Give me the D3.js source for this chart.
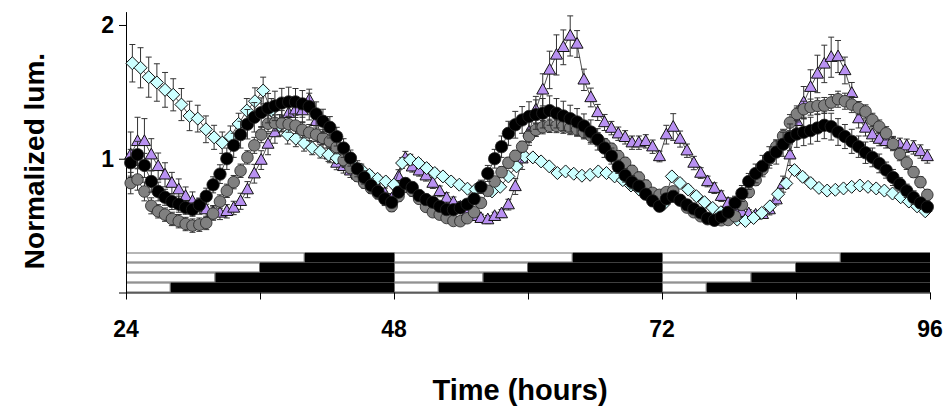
<!DOCTYPE html>
<html><head><meta charset="utf-8">
<script src="https://cdn.jsdelivr.net/npm/d3@7"></script>
<style>html,body{margin:0;padding:0;background:#fff;} svg{display:block;font-family:Arial,"Liberation Sans",Helvetica,sans-serif;}</style>
</head><body><svg id="chart" width="951" height="406"></svg>
<script>
// ---- sampling grids (hours) ----
const cyanStart = 24.57, cyanStep = 0.732;   // diamonds
const gridStart = 24.42, gridStep = 0.615;   // triangles, grey & black circles

// ---- series values (normalized luminescence) ----
const cyanVals = [1.714,1.68,1.61,1.57,1.515,1.478,1.405,1.32,1.30,1.22,1.16,1.12,1.165,1.26,1.36,1.43,1.51,1.36,1.25,1.18,1.15,1.117,1.08,1.055,1.03,1.005,0.975,0.95,0.92,0.88,0.85,0.83,0.806,
0.968,0.993,0.968,0.93,0.893,0.868,0.83,0.806,0.776,0.77,0.78,0.756,0.79,0.868,0.943,1.017,1.01,0.98,0.943,0.893,0.905,0.888,0.873,0.88,0.905,0.893,0.868,0.84,0.80,0.77,0.73,0.69,0.66,
0.868,0.818,0.77,0.72,0.675,0.632,0.60,0.565,0.545,0.535,0.557,0.595,0.644,0.735,0.815,0.915,0.865,0.818,0.782,0.762,0.768,0.778,0.79,0.80,0.79,0.778,0.762,0.74,0.712,0.68,0.644,0.607];
const cyanErr = [0.14,0.15,0.15,0.14,0.13,0.12,0.12,0.11,0.10,0.10,0.09,0.08,0.08,0.08,0.09,0.10,0.10,0.09,0.08,0.07,0.06,0.06,0.05,0.05,0.05,0.04,0.04,0.04,0.04,0.03,0.03,0.03,0.03,
0.04,0.04,0.03,0.03,0.03,0.03,0.03,0.03,0.02,0.02,0.02,0.02,0.02,0.03,0.03,0.03,0.03,0.02,0.02,0.02,0.02,0.02,0.02,0.02,0.02,0.02,0.02,0.02,0.02,0.02,0.02,0.02,0.02,
0.03,0.03,0.03,0.03,0.02,0.02,0.02,0.02,0.02,0.02,0.02,0.02,0.02,0.02,0.02,0.03,0.03,0.03,0.02,0.02,0.02,0.02,0.02,0.02,0.02,0.02,0.02,0.02,0.02,0.02,0.02,0.02];

const purpleVals = [1.03,1.13,1.13,1.03,0.943,0.88,0.818,0.769,0.719,0.682,0.645,0.62,0.60,0.595,0.607,0.632,0.682,0.769,0.888,0.99,1.11,1.196,1.28,1.34,1.366,1.36,1.44,1.28,1.15,1.03,0.968,0.943,0.91,0.88,0.85,0.82,0.78,0.74,0.70,
0.868,1.005,0.94,0.91,0.873,0.818,0.756,0.706,0.674,0.64,0.60,0.57,0.555,0.545,0.57,0.59,0.657,0.793,1.0,1.2,1.366,1.515,1.664,1.776,1.833,1.918,1.858,1.59,1.458,1.346,1.271,1.229,1.187,1.16,1.12,1.12,1.13,1.09,1.017,
1.18,1.237,1.147,1.06,0.968,0.893,0.83,0.78,0.72,0.668,0.63,0.60,0.59,0.58,0.585,0.62,0.694,0.81,1.03,1.28,1.42,1.535,1.634,1.709,1.759,1.764,1.66,1.49,1.30,1.23,1.18,1.147,1.13,1.117,1.104,1.097,1.085,1.054,1.017];
const purpleErr = [0.17,0.18,0.17,0.12,0.10,0.09,0.08,0.08,0.07,0.07,0.06,0.06,0.05,0.05,0.05,0.05,0.06,0.06,0.07,0.07,0.08,0.08,0.08,0.08,0.09,0.09,0.08,0.08,0.07,0.06,0.05,0.05,0.05,0.04,0.04,0.04,0.04,0.04,0.04,
0.05,0.05,0.04,0.04,0.04,0.04,0.04,0.04,0.04,0.04,0.04,0.03,0.03,0.03,0.03,0.03,0.04,0.06,0.08,0.10,0.10,0.12,0.14,0.15,0.13,0.15,0.10,0.08,0.07,0.06,0.06,0.05,0.05,0.05,0.05,0.05,0.05,0.05,0.04,
0.07,0.10,0.06,0.05,0.05,0.04,0.04,0.04,0.04,0.04,0.03,0.03,0.03,0.03,0.03,0.04,0.04,0.06,0.08,0.10,0.12,0.13,0.14,0.14,0.15,0.12,0.10,0.08,0.07,0.06,0.05,0.05,0.05,0.05,0.05,0.05,0.05,0.05,0.05];

const grayVals = [0.818,0.845,0.755,0.648,0.607,0.582,0.55,0.533,0.512,0.50,0.507,0.52,0.59,0.68,0.76,0.825,0.91,1.01,1.10,1.18,1.262,1.268,1.265,1.258,1.248,1.216,1.196,1.18,1.155,1.13,1.087,0.99,0.93,0.87,0.82,0.78,0.74,0.70,0.645,
0.72,0.79,0.76,0.70,0.64,0.60,0.582,0.557,0.535,0.533,0.555,0.60,0.67,0.76,0.83,0.90,0.97,1.022,1.09,1.17,1.216,1.236,1.246,1.245,1.24,1.23,1.218,1.198,1.172,1.145,1.11,1.075,1.02,0.97,0.91,0.86,0.80,0.745,0.73,
0.75,0.756,0.69,0.635,0.60,0.57,0.548,0.54,0.54,0.542,0.57,0.655,0.75,0.84,0.92,1.0,1.09,1.17,1.27,1.335,1.37,1.386,1.395,1.398,1.42,1.445,1.43,1.405,1.378,1.353,1.29,1.24,1.19,1.11,1.035,0.97,0.90,0.825,0.73];
const grayErr = [0.08,0.08,0.07,0.06,0.05,0.05,0.05,0.05,0.05,0.05,0.05,0.05,0.05,0.05,0.05,0.05,0.05,0.05,0.06,0.06,0.06,0.06,0.06,0.06,0.06,0.06,0.06,0.05,0.05,0.05,0.05,0.05,0.04,0.04,0.04,0.04,0.04,0.04,0.04,
0.04,0.04,0.04,0.03,0.03,0.03,0.03,0.03,0.03,0.03,0.03,0.03,0.03,0.03,0.03,0.04,0.04,0.04,0.04,0.05,0.05,0.05,0.05,0.05,0.05,0.05,0.05,0.05,0.05,0.05,0.04,0.04,0.04,0.04,0.04,0.04,0.04,0.03,0.03,
0.03,0.03,0.03,0.03,0.03,0.03,0.03,0.03,0.03,0.03,0.03,0.03,0.04,0.04,0.04,0.05,0.05,0.05,0.06,0.06,0.06,0.06,0.06,0.06,0.06,0.06,0.06,0.06,0.05,0.05,0.05,0.05,0.05,0.05,0.05,0.05,0.04,0.04,0.04];

const blackVals = [0.97,1.03,0.95,0.83,0.755,0.712,0.68,0.66,0.635,0.62,0.655,0.72,0.805,0.885,1.0,1.10,1.18,1.258,1.31,1.345,1.378,1.395,1.416,1.425,1.425,1.41,1.39,1.335,1.28,1.235,1.165,1.08,1.005,0.925,0.86,0.80,0.755,0.70,0.674,
0.75,0.815,0.785,0.725,0.695,0.675,0.644,0.62,0.619,0.632,0.66,0.70,0.79,0.89,1.0,1.09,1.19,1.254,1.29,1.316,1.33,1.34,1.36,1.34,1.32,1.30,1.275,1.245,1.20,1.145,1.08,1.02,0.94,0.875,0.825,0.795,0.735,0.685,0.645,
0.70,0.719,0.69,0.655,0.625,0.595,0.555,0.54,0.565,0.60,0.67,0.74,0.83,0.89,0.945,1.01,1.05,1.108,1.16,1.185,1.198,1.21,1.23,1.25,1.24,1.20,1.166,1.13,1.09,1.045,1.01,0.965,0.915,0.86,0.81,0.76,0.71,0.67,0.64];
const blackErr = [0.10,0.10,0.09,0.08,0.07,0.06,0.06,0.06,0.05,0.05,0.05,0.06,0.06,0.07,0.08,0.09,0.10,0.11,0.11,0.11,0.11,0.11,0.11,0.11,0.10,0.10,0.10,0.09,0.09,0.08,0.07,0.07,0.06,0.06,0.05,0.05,0.05,0.05,0.04,
0.04,0.04,0.04,0.04,0.04,0.03,0.03,0.03,0.03,0.03,0.03,0.04,0.05,0.06,0.07,0.08,0.09,0.10,0.10,0.11,0.11,0.11,0.11,0.11,0.11,0.10,0.10,0.09,0.09,0.08,0.07,0.06,0.05,0.05,0.05,0.04,0.04,0.04,0.04,
0.04,0.04,0.04,0.04,0.03,0.03,0.03,0.03,0.03,0.04,0.05,0.06,0.06,0.07,0.08,0.08,0.09,0.09,0.10,0.10,0.10,0.10,0.10,0.10,0.10,0.10,0.09,0.09,0.08,0.08,0.07,0.07,0.06,0.06,0.05,0.05,0.05,0.04,0.04];

// ---- axes & light regime ----
const xTicks = [24, 36, 48, 60, 72, 84, 96];
const xLabels = [24, 48, 72, 96];
const yTicks = [0, 1, 2];
const yLabels = [1, 2];
const dayStarts = [24, 48, 72];
const photoperiods = [16, 12, 8, 4];   // hours of light per row (top to bottom)

const svg = d3.select("#chart");
const x = d3.scaleLinear().domain([24, 96]).range([126, 930]);
const y = d3.scaleLinear().domain([0, 2.1]).range([292.5, 11.6]);

// light/dark bars
const rowTop = 252.5, rowH = 10;
const lb = svg.append("g");
dayStarts.forEach(d => {
  photoperiods.forEach((p, r) => {
    lb.append("rect").attr("x", x(d) + 0.5).attr("y", rowTop + r*rowH + 0.5)
      .attr("width", x(d+p) - x(d) - 1).attr("height", rowH - 1)
      .attr("fill", "#fff").attr("stroke", "#6e6e6e").attr("stroke-width", 1);
    lb.append("rect").attr("x", x(d+p)).attr("y", rowTop + r*rowH)
      .attr("width", x(d+24) - x(d+p)).attr("height", rowH)
      .attr("fill", "#000");
  });
  lb.append("line").attr("x1", x(d)+0.5).attr("x2", x(d)+0.5)
    .attr("y1", rowTop).attr("y2", rowTop + 4*rowH).attr("stroke", "#6e6e6e");
});

// axes
const xAxis = svg.append("g").attr("transform", "translate(0,292.5)")
  .call(d3.axisBottom(x).tickValues(xTicks).tickSize(7).tickSizeOuter(0).tickFormat(""));
const yAxis = svg.append("g").attr("transform", "translate(126,0)")
  .call(d3.axisLeft(y).tickValues(yTicks).tickSize(7).tickSizeOuter(0).tickFormat(""));
[xAxis, yAxis].forEach(a => { a.selectAll("path,line").attr("stroke", "#000").attr("stroke-width", 1); });

svg.selectAll(".xl").data(xLabels).join("text").attr("class", "xl")
  .attr("x", d => x(d)).attr("y", 337).attr("text-anchor", "middle")
  .attr("font-size", 23).attr("font-weight", "bold").text(d => d);
svg.selectAll(".yl").data(yLabels).join("text").attr("class", "yl")
  .attr("x", 114).attr("y", d => y(d) + 8.5).attr("text-anchor", "end")
  .attr("font-size", 23).attr("font-weight", "bold").text(d => d);

svg.append("text").attr("x", 520).attr("y", 400).attr("text-anchor", "middle")
  .attr("font-size", 29).attr("font-weight", "bold").text("Time (hours)");
svg.append("text").attr("transform", "translate(44,161) rotate(-90)").attr("text-anchor", "middle")
  .attr("font-size", 28).attr("font-weight", "bold").text("Normalized lum.");

// ---- series ----
function build(vals, errs, start, step) {
  return vals.map((v, i) => ({ t: start + i*step, v: v, e: errs[i] }));
}
const series = [
  { data: build(purpleVals, purpleErr, gridStart, gridStep), shape: "tri", fill: "#b991f2" },
  { data: build(cyanVals, cyanErr, cyanStart, cyanStep), shape: "dia", fill: "#ccffff" },
  { data: build(grayVals, grayErr, gridStart, gridStep), shape: "circ", fill: "#808080", r: 5.8 },
  { data: build(blackVals, blackErr, gridStart, gridStep), shape: "circ", fill: "#000", r: 6.2 }
];

const line = d3.line().x(d => x(d.t)).y(d => y(d.v));
series.forEach(s => {
  const g = svg.append("g");
  g.append("path").attr("d", line(s.data)).attr("fill", "none").attr("stroke", "#222").attr("stroke-width", 0.8);
  const eb = g.append("g").attr("stroke", "#333").attr("stroke-width", 1);
  s.data.forEach(d => {
    const cx = x(d.t), y1 = y(d.v + d.e), y2 = y(d.v - d.e);
    eb.append("line").attr("x1", cx).attr("x2", cx).attr("y1", y1).attr("y2", y2);
    eb.append("line").attr("x1", cx-3).attr("x2", cx+3).attr("y1", y1).attr("y2", y1);
    eb.append("line").attr("x1", cx-3).attr("x2", cx+3).attr("y1", y2).attr("y2", y2);
  });
  const m = g.append("g");
  s.data.forEach(d => {
    const cx = x(d.t), cy = y(d.v);
    if (s.shape === "circ") {
      m.append("circle").attr("cx", cx).attr("cy", cy).attr("r", s.r)
        .attr("fill", s.fill).attr("stroke", "#222").attr("stroke-width", 0.8);
    } else if (s.shape === "dia") {
      m.append("path").attr("d", `M${cx},${cy-6.5}L${cx+6.5},${cy}L${cx},${cy+6.5}L${cx-6.5},${cy}Z`)
        .attr("fill", s.fill).attr("stroke", "#111").attr("stroke-width", 1);
    } else {
      m.append("path").attr("d", `M${cx},${cy-6.5}L${cx+6},${cy+4.2}L${cx-6},${cy+4.2}Z`)
        .attr("fill", s.fill).attr("stroke", "#111").attr("stroke-width", 1);
    }
  });
});
</script></body></html>
